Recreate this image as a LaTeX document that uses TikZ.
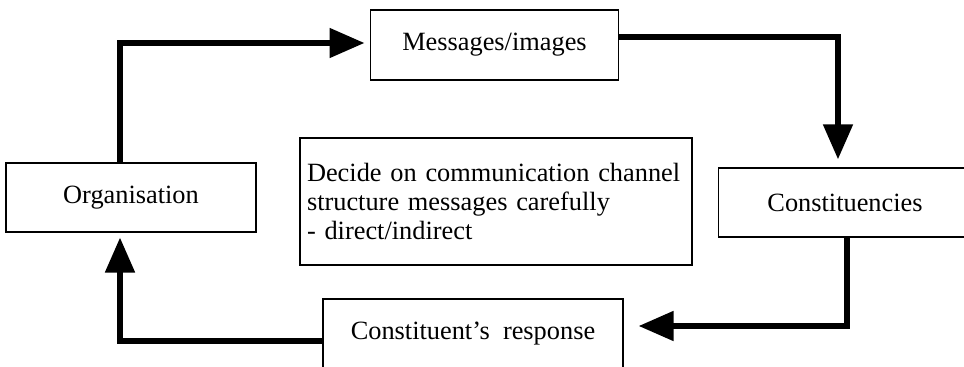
\documentclass[tikz,border=0pt]{standalone}
\usepackage{fontspec}
\setmainfont{Liberation Serif}
\usetikzlibrary{arrows.meta}
\tikzset{
  box/.style={draw=black,line width=0.6pt,inner sep=0pt,font=\fontsize{12}{13.2}\selectfont},
  flow/.style={->,line width=2.6pt,color=black}
}

\begin{document}
\begin{tikzpicture}[>={Triangle[length=0.56cm,width=0.46cm]},x=0.016cm,y=-0.016cm]
		\useasboundingbox (0,0) rectangle (964,367);
		\node[box,minimum width=3.98cm,minimum height=1.12cm] (msg) at (494.5,45) {Messages/images};
		\node[box,minimum width=4.0cm,minimum height=1.10cm] (org) at (131,197.5) {Organisation};
		\node[box,minimum width=4.06cm,minimum height=1.10cm] (cons) at (845,202.5) {Constituencies};
		\node[box,minimum width=4.8cm,minimum height=1.12cm] (resp) at (473,334) {Constituent’s\ \ response};
		\node[box,text width=6.05cm,inner xsep=0.11cm,minimum height=2.03cm,align=left] (note) at (496,201.5)
		{Decide on communication channel\\structure messages carefully\\- direct/indirect};
		\coordinate (tl) at (120,43);
		\coordinate (tr) at (838,37);
		\coordinate (br) at (847,326);
		\coordinate (bl) at (120,341);
		\draw[flow,shorten >=0.08cm] (org.north -| tl) -- (tl) -- (msg.west |- tl);
		\draw[flow,shorten >=0.13cm] (msg.east |- tr) -- (tr) -- (cons.north -| tr);
		\draw[flow,shorten >=0.24cm] (cons.south -| br) -- (br) -- (resp.east |- br);
		\draw[flow,shorten >=0.08cm] (resp.west |- bl) -- (bl) -- (org.south -| bl);
\end{tikzpicture}
\end{document}
